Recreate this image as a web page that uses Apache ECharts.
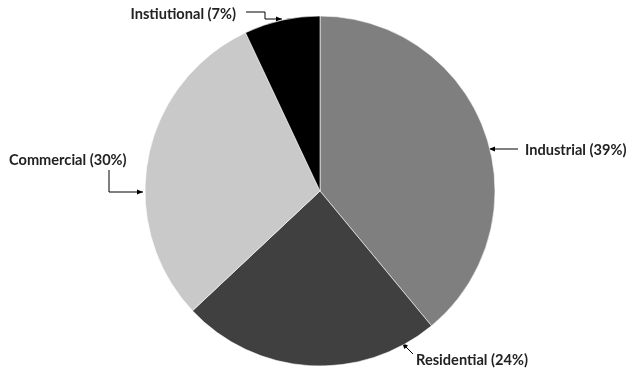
<!DOCTYPE html>
<html><head><meta charset="utf-8">
<script src="https://cdn.jsdelivr.net/npm/echarts@6/dist/echarts.min.js"></script>
<style>html,body{margin:0;padding:0;background:#fff}#c{width:634px;height:372px}</style>
</head><body><div id="c"></div>
<script>
// clockwise from 12 o'clock
const categories = ['Industrial', 'Residential', 'Commercial', 'Instiutional'];
const shares = [39, 24, 30, 7];
const colors = ['#7f7f7f', '#404040', '#c9c9c9', '#000000'];

// label placement (pixels) and connector polylines, in the order of categories
const labelPos = [
  {x: 525, y: 150, align: 'left', line: [[518, 149], [489, 149]]},
  {x: 416, y: 360, align: 'left', line: [[413, 354], [402, 343]]},
  {x: 9, y: 160, align: 'left', line: [[109, 170], [109, 192], [143, 192]]},
  {x: 236, y: 14, align: 'right', line: [[246, 12], [265, 12], [265, 19], [282, 19]]}
];

function arrowHead(p, q) {
  const dx = q[0] - p[0], dy = q[1] - p[1];
  const L = Math.hypot(dx, dy), ux = dx / L, uy = dy / L;
  const len = 6, w = 2.5;
  const bx = q[0] - ux * len, by = q[1] - uy * len;
  return {
    type: 'polygon', silent: true,
    shape: {points: [q, [bx - uy * w, by + ux * w], [bx + uy * w, by - ux * w]]},
    style: {fill: '#000'}
  };
}
const heads = labelPos.map(l => arrowHead(l.line[l.line.length - 2], l.line[l.line.length - 1]));

const chart = echarts.init(document.getElementById('c'));
chart.setOption({
  animation: false,
  backgroundColor: '#fff',
  graphic: heads,
  series: [{
    type: 'pie',
    center: [320, 191],
    radius: 175,
    startAngle: 90,
    clockwise: true,
    data: categories.map((c, i) => ({name: c, value: shares[i], itemStyle: {color: colors[i]}})),
    itemStyle: {borderColor: '#fff', borderWidth: 0.6},
    label: {
      show: true,
      overflow: 'none',
      formatter: p => p.name + ' (' + p.value + '%)',
      fontFamily: 'Lato', fontWeight: 'bold', fontSize: 14.6, color: '#222'
    },
    labelLine: {show: true, lineStyle: {color: '#000', width: 1}},
    labelLayout: function (params) {
      const l = labelPos[params.dataIndex];
      return {x: l.x, y: l.y, align: l.align, verticalAlign: 'middle', labelLinePoints: l.line};
    }
  }]
});
</script>
</body></html>
